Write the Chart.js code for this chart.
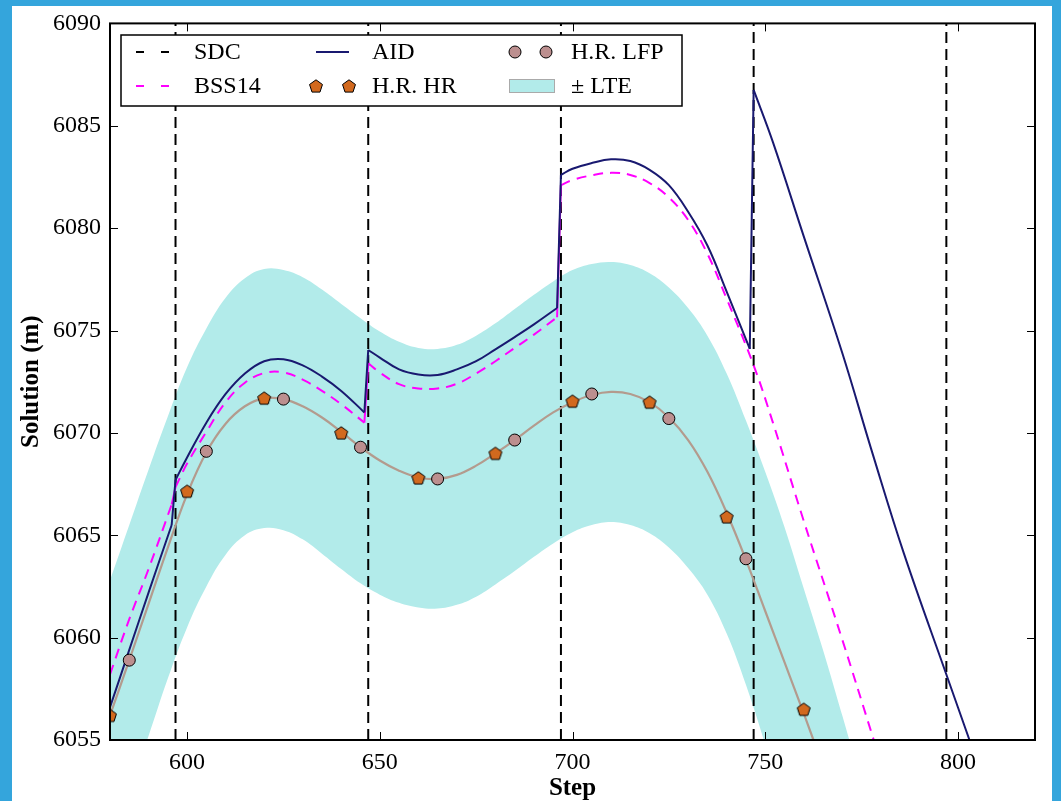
<!DOCTYPE html>
<html>
<head>
<meta charset="utf-8">
<script src="https://cdn.jsdelivr.net/npm/chart.js@4/dist/chart.umd.min.js"></script>
<style>
  html, body { margin: 0; padding: 0; background: #34a5dc; }
  canvas { display: block; }
</style>
</head>
<body>
<canvas id="myChart" width="1061" height="801"></canvas>
<script>
// ---- data ----
const xTickValues = [600, 650, 700, 750, 800];
const yTickValues = [6055, 6060, 6065, 6070, 6075, 6080, 6085, 6090];

const sdcSteps = [597, 647, 697, 747, 797];

const aidSteps = [580, 585, 590, 596,
  597, 600, 605, 610, 615, 620, 625, 630, 635, 640, 646,
  647, 650, 655, 660, 665, 670, 675, 680, 685, 690, 696,
  697, 700, 705, 710, 715, 720, 725, 730, 735, 740, 746,
  747, 752, 760, 770, 778, 786, 797, 803, 806];
const aidValues = [6056.6, 6059.4, 6062.2, 6065.5,
  6067.7, 6068.8, 6070.5, 6071.9, 6072.9, 6073.5, 6073.6, 6073.3, 6072.75, 6072.05, 6071.0,
  6074.05, 6073.68, 6073.1, 6072.85, 6072.83, 6073.1, 6073.5, 6074.08, 6074.68, 6075.3, 6076.1,
  6082.6, 6082.9, 6083.18, 6083.36, 6083.28, 6082.85, 6082.1, 6080.8, 6079.15, 6076.9, 6074.1,
  6086.75, 6084.2, 6079.6, 6073.9, 6068.9, 6064.1, 6058.2, 6055.0, 6053.4];

const bssSteps = [580, 585, 590, 596,
  597, 600, 605, 610, 615, 620, 625, 630, 635, 640, 646,
  647, 650, 655, 660, 665, 670, 675, 680, 685, 690, 696,
  697, 700, 705, 710, 715, 720, 725, 730, 735, 740, 747, 752, 760, 770, 778, 781];
const bssValues = [6058.2, 6060.9, 6063.35, 6066.5,
  6067.35, 6068.5, 6070.05, 6071.5, 6072.45, 6072.92, 6072.95, 6072.6, 6072.05, 6071.4, 6070.5,
  6073.4, 6072.95, 6072.38, 6072.17, 6072.17, 6072.4, 6072.9, 6073.5, 6074.15, 6074.8, 6075.65,
  6082.1, 6082.35, 6082.58, 6082.7, 6082.6, 6082.2, 6081.5, 6080.4, 6078.75, 6076.55, 6073.3, 6070.5, 6065.7, 6059.9, 6055.1, 6053.3];

const lfpLineSteps = [580, 585, 590, 595, 600, 605, 610, 615, 620, 625, 630, 635, 640, 645, 650, 655, 660, 665, 670,
  675, 680, 685, 690, 695, 700, 705, 710, 715, 720, 725, 730, 735, 740, 745, 750, 755, 760, 765];
const lfpLineValues = [6056.2, 6058.9, 6061.65, 6064.4, 6067.0, 6069.05, 6070.45, 6071.3, 6071.7, 6071.65, 6071.3, 6070.75, 6070.05, 6069.3, 6068.65, 6068.15, 6067.82, 6067.75, 6067.95,
  6068.4, 6069.0, 6069.65, 6070.35, 6071.0, 6071.5, 6071.85, 6072.0, 6071.9, 6071.5, 6070.75, 6069.65, 6068.1, 6066.1, 6063.8, 6061.3, 6058.8, 6056.3, 6053.7];

const hrSteps = [580, 600, 620, 640, 660, 680, 700, 720, 740, 760];
const hrValues = [6056.2, 6067.15, 6071.7, 6070.0, 6067.8, 6069.0, 6071.55, 6071.5, 6065.9, 6056.5];

const lfpSteps = [585, 605, 625, 645, 665, 685, 705, 725, 745];
const lfpValues = [6058.9, 6069.1, 6071.65, 6069.3, 6067.75, 6069.65, 6071.9, 6070.7, 6063.85];

const lteSteps = [580, 585, 590, 595, 600, 605, 610, 615, 620, 625, 630, 635, 640, 645, 650, 655, 660, 665, 670,
  675, 680, 685, 690, 695, 700, 705, 710, 715, 720, 725, 730, 735, 740, 745, 750, 755, 760, 765, 770, 775];
const lteUpper = [6062.8, 6065.5, 6068.2, 6070.8, 6073.2, 6075.1, 6076.6, 6077.55, 6078.0, 6077.95, 6077.6, 6077.0, 6076.3, 6075.6, 6074.95, 6074.45, 6074.15, 6074.1, 6074.3,
  6074.75, 6075.35, 6076.05, 6076.75, 6077.4, 6077.95, 6078.25, 6078.35, 6078.2, 6077.8, 6077.1, 6076.1, 6074.75, 6072.9, 6070.6, 6068.1, 6065.4, 6062.4, 6059.4, 6056.2, 6052.9];
const lteLower = [6049.8, 6052.5, 6055.2, 6058.0, 6060.5, 6062.5, 6064.05, 6065.0, 6065.35, 6065.25, 6064.8, 6064.1, 6063.35, 6062.65, 6062.1, 6061.7, 6061.47, 6061.42, 6061.6,
  6062.0, 6062.6, 6063.25, 6063.95, 6064.6, 6065.15, 6065.5, 6065.65, 6065.5, 6065.1, 6064.4, 6063.4, 6062.1, 6060.2, 6057.7, 6054.8, 6051.8, 6048.7, 6045.5, 6042.2, 6038.9];

const FONT = "'Liberation Serif', 'DejaVu Serif', serif";
const NAVY = '#191970';
const MAGENTA = '#ff00ff';
const BAND = '#b2ebea';
const LFP_LINE = '#b39b8e';
const ROSY = '#bc8f8f';
const ORANGE = '#d2691e';

const pts = (xs, ys) => xs.map((x, i) => ({x: x, y: ys[i]}));

// smooth pieces between the SDC jumps (null breaks the line) ...
function smoothPieces(xs, ys) {
  const out = [];
  xs.forEach((x, i) => {
    out.push({x: x, y: ys[i]});
    if (i < xs.length - 1 && xs[i + 1] - x === 1) out.push({x: x + 0.5, y: null});
  });
  return out;
}
// ... and the straight jumps themselves
function jumpSegments(xs, ys) {
  const out = [];
  xs.forEach((x, i) => {
    if (i < xs.length - 1 && xs[i + 1] - x === 1) {
      out.push({x: x, y: ys[i]}, {x: xs[i + 1], y: ys[i + 1]}, {x: x + 0.5, y: null});
    }
  });
  return out;
}

function makePentagon(size) {
  const c = document.createElement('canvas');
  c.width = size; c.height = size;
  const g = c.getContext('2d');
  const r = size / 2 - 1.2;
  g.beginPath();
  for (let i = 0; i < 5; i++) {
    const a = -Math.PI / 2 + i * 2 * Math.PI / 5;
    g.lineTo(size / 2 + r * Math.cos(a), size / 2 + 0.6 + r * Math.sin(a));
  }
  g.closePath();
  g.fillStyle = ORANGE;
  g.fill();
  g.strokeStyle = '#000';
  g.lineWidth = 1;
  g.stroke();
  return c;
}
const pentagon = makePentagon(16);

// SDC vertical lines, broken by null points
const sdcData = [];
sdcSteps.forEach(s => {
  sdcData.push({x: s, y: 6055}, {x: s, y: 6090}, {x: s, y: null});
});

// frame, inward ticks, axis titles and legend
const decorations = {
  id: 'decorations',
  beforeDraw(chart) {
    const ctx = chart.ctx;
    ctx.save();
    ctx.fillStyle = '#34a5dc';
    ctx.fillRect(0, 0, chart.width, chart.height);
    ctx.fillStyle = '#fff';
    ctx.fillRect(12, 6, 1040, chart.height - 6);
    ctx.restore();
  },
  afterDraw(chart) {
    const ctx = chart.ctx;
    const a = chart.chartArea;
    const xs = chart.scales.x, ys = chart.scales.y;
    ctx.save();
    ctx.strokeStyle = '#000';
    ctx.lineWidth = 1;
    xTickValues.forEach(v => {
      const px = Math.round(xs.getPixelForValue(v)) + 0.5;
      ctx.beginPath();
      ctx.moveTo(px, a.bottom); ctx.lineTo(px, a.bottom - 8);
      ctx.moveTo(px, a.top); ctx.lineTo(px, a.top + 8);
      ctx.stroke();
    });
    yTickValues.forEach(v => {
      const py = Math.round(ys.getPixelForValue(v)) + 0.5;
      ctx.beginPath();
      ctx.moveTo(a.left, py); ctx.lineTo(a.left + 8, py);
      ctx.moveTo(a.right, py); ctx.lineTo(a.right - 8, py);
      ctx.stroke();
    });
    ctx.lineWidth = 2;
    ctx.strokeRect(a.left, a.top, a.right - a.left, a.bottom - a.top);

    // axis titles
    ctx.fillStyle = '#000';
    ctx.font = 'bold 25px ' + FONT;
    ctx.textAlign = 'center';
    ctx.textBaseline = 'middle';
    ctx.fillText('Step', (a.left + a.right) / 2, 789);
    ctx.translate(32, (a.top + a.bottom) / 2);
    ctx.rotate(-Math.PI / 2);
    ctx.fillText('Solution (m)', 0, 0);
    ctx.setTransform(1, 0, 0, 1, 0, 0);

    // legend
    const bx = 121, by = 35, bw = 561, bh = 71;
    ctx.fillStyle = '#fff';
    ctx.fillRect(bx, by, bw, bh);
    ctx.lineWidth = 1.5;
    ctx.strokeStyle = '#000';
    ctx.strokeRect(bx, by, bw, bh);
    const r1 = 52, r2 = 86;
    ctx.lineWidth = 2;
    ctx.setLineDash([8, 17]);
    ctx.strokeStyle = '#000';
    ctx.beginPath(); ctx.moveTo(136, r1); ctx.lineTo(170, r1); ctx.stroke();
    ctx.strokeStyle = MAGENTA;
    ctx.beginPath(); ctx.moveTo(136, r2); ctx.lineTo(170, r2); ctx.stroke();
    ctx.setLineDash([]);
    ctx.strokeStyle = NAVY;
    ctx.beginPath(); ctx.moveTo(316, r1); ctx.lineTo(349, r1); ctx.stroke();
    [316, 349].forEach(x => ctx.drawImage(pentagon, x - 8, r2 - 8));
    ctx.lineWidth = 1;
    ctx.strokeStyle = '#000';
    ctx.fillStyle = ROSY;
    [515, 546].forEach(x => {
      ctx.beginPath(); ctx.arc(x, r1, 6, 0, 2 * Math.PI); ctx.fill(); ctx.stroke();
    });
    ctx.fillStyle = BAND;
    ctx.fillRect(509, r2 - 7, 46, 14);
    ctx.strokeStyle = '#aaaaaa';
    ctx.strokeRect(509.5, r2 - 6.5, 45, 13);
    ctx.fillStyle = '#000';
    ctx.font = '24px ' + FONT;
    ctx.textAlign = 'left';
    ctx.fillText('SDC', 194, r1 + 1);
    ctx.fillText('BSS14', 194, r2 + 1);
    ctx.fillText('AID', 372, r1 + 1);
    ctx.fillText('H.R. HR', 372, r2 + 1);
    ctx.fillText('H.R. LFP', 571, r1 + 1);
    ctx.fillText('\u00b1 LTE', 571, r2 + 1);
    ctx.restore();
  }
};

const ctxt = document.getElementById('myChart').getContext('2d');

const myChart = new Chart(ctxt, {
  type: 'scatter',
  data: {
    datasets: [
      {
        label: 'H.R. LFP',
        data: pts(lfpSteps, lfpValues),
        showLine: false,
        pointRadius: 6,
        pointBackgroundColor: ROSY,
        pointBorderColor: '#000',
        pointBorderWidth: 1,
        clip: 0,
        order: 0
      },
      {
        label: 'H.R. HR',
        data: pts(hrSteps, hrValues),
        showLine: false,
        pointStyle: pentagon,
        pointRadius: 8,
        clip: 0,
        order: 1
      },
      {
        label: 'H.R. line',
        data: pts(lfpLineSteps, lfpLineValues),
        showLine: true,
        borderColor: LFP_LINE,
        borderWidth: 2.2,
        pointRadius: 0,
        tension: 0.4,
        clip: 0,
        order: 2
      },
      {
        label: 'AID',
        data: smoothPieces(aidSteps, aidValues),
        showLine: true,
        spanGaps: false,
        borderColor: NAVY,
        borderWidth: 2,
        pointRadius: 0,
        tension: 0.4,
        clip: 0,
        order: 3
      },
      {
        label: 'AID jumps',
        data: jumpSegments(aidSteps, aidValues),
        showLine: true,
        spanGaps: false,
        borderColor: NAVY,
        borderWidth: 2,
        pointRadius: 0,
        clip: 0,
        order: 3
      },
      {
        label: 'BSS14',
        data: smoothPieces(bssSteps, bssValues),
        showLine: true,
        spanGaps: false,
        borderColor: MAGENTA,
        borderWidth: 2,
        borderDash: [10, 7],
        pointRadius: 0,
        tension: 0.4,
        clip: 0,
        order: 4
      },
      {
        label: 'BSS14 jumps',
        data: jumpSegments(bssSteps, bssValues),
        showLine: true,
        spanGaps: false,
        borderColor: MAGENTA,
        borderWidth: 2,
        pointRadius: 0,
        clip: 0,
        order: 4
      },
      {
        label: 'SDC',
        data: sdcData,
        showLine: true,
        spanGaps: false,
        borderColor: '#000',
        borderWidth: 2,
        borderDash: [11, 6],
        pointRadius: 0,
        clip: 0,
        order: 5
      },
      {
        label: '\u00b1 LTE',
        data: pts(lteSteps, lteUpper),
        showLine: true,
        borderWidth: 0,
        borderColor: 'rgba(0,0,0,0)',
        backgroundColor: BAND,
        fill: '+1',
        pointRadius: 0,
        tension: 0.4,
        clip: 0,
        order: 6
      },
      {
        label: 'lower',
        data: pts(lteSteps, lteLower),
        showLine: true,
        borderWidth: 0,
        borderColor: 'rgba(0,0,0,0)',
        pointRadius: 0,
        tension: 0.4,
        clip: 0,
        order: 7
      }
    ]
  },
  options: {
    responsive: false,
    animation: false,
    elements: { line: { capBezierPoints: false } },
    layout: { padding: { left: 12, top: 20, right: 26, bottom: 0 } },
    plugins: {
      legend: { display: false },
      tooltip: { enabled: false }
    },
    scales: {
      x: {
        type: 'linear',
        min: 580,
        max: 820,
        afterBuildTicks: s => { s.ticks = xTickValues.map(v => ({value: v})); },
        afterFit: s => { s.height = 61; },
        grid: { display: false, drawTicks: false },
        border: { display: false },
        ticks: { padding: 8, color: '#000', font: { family: FONT, size: 24 }, callback: v => String(v) }
      },
      y: {
        min: 6055,
        max: 6090,
        afterBuildTicks: s => { s.ticks = yTickValues.map(v => ({value: v})); },
        afterFit: s => { s.width = 98; },
        grid: { display: false, drawTicks: false },
        border: { display: false },
        ticks: { padding: 9, color: '#000', font: { family: FONT, size: 24 }, callback: v => String(v) }
      }
    }
  },
  plugins: [decorations]
});
</script>
</body>
</html>
